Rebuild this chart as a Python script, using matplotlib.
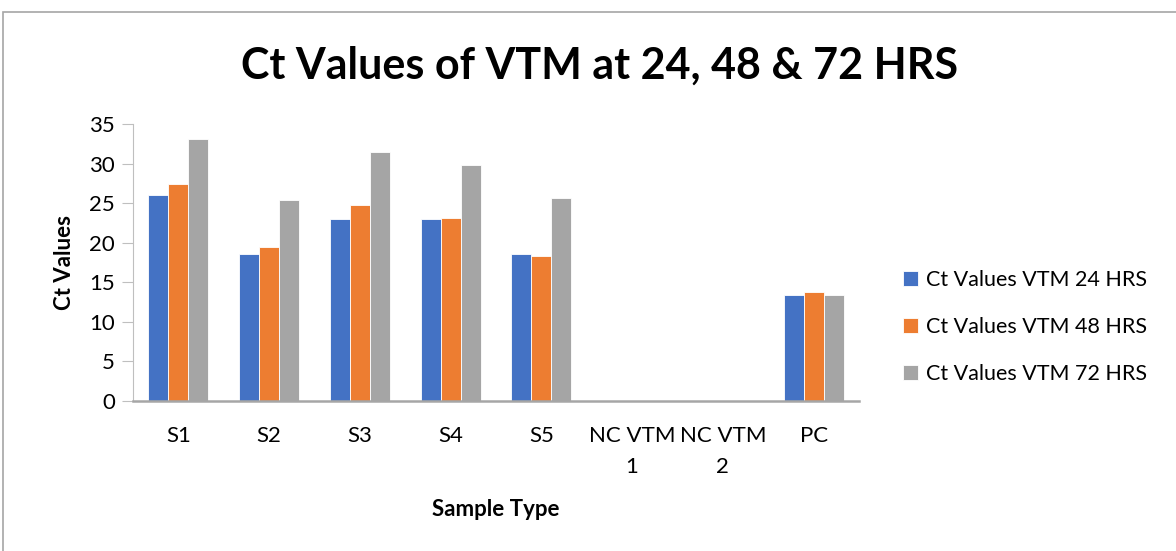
import numpy as np
import matplotlib
matplotlib.use("Agg")
from matplotlib import pyplot as plt
from matplotlib.patches import Rectangle

categories = ['S1', 'S2', 'S3', 'S4', 'S5', 'NC VTM\n1', 'NC VTM\n2', 'PC']
series_names = ['Ct Values VTM 24 HRS', 'Ct Values VTM 48 HRS', 'Ct Values VTM 72 HRS']
ct_24 = [26.0, 18.55, 23.0, 23.05, 18.6, 0, 0, 13.45]
ct_48 = [27.4, 19.5, 24.85, 23.1, 18.4, 0, 0, 13.75]
ct_72 = [33.1, 25.4, 31.55, 29.85, 25.7, 0, 0, 13.45]
colors = ['#4472C4', '#ED7D31', '#A5A5A5']

plt.rcParams['font.family'] = ['Lato', 'DejaVu Sans']

fig = plt.figure(figsize=(11.76, 5.51), dpi=100)
ax = fig.add_axes([133 / 1176, 1 - 401 / 551, 726 / 1176, 276.7 / 551])

x = np.arange(len(categories))
w = 0.22
for i, vals in enumerate([ct_24, ct_48, ct_72]):
    ax.bar(x + (i - 1) * w, vals, w, color=colors[i], edgecolor='white',
           linewidth=0.6, label=series_names[i], zorder=2)

ax.set_xlim(-0.5, len(categories) - 0.5)
ax.set_ylim(0, 35)
ax.set_yticks(range(0, 36, 5))
ax.set_xticks(x)
ax.set_xticklabels(categories, fontsize=16, linespacing=1.7)
ax.tick_params(axis='x', length=0, pad=18)
ax.tick_params(axis='y', labelsize=16, length=8, color='#bfbfbf', pad=5)
for s in ['top', 'right']:
    ax.spines[s].set_visible(False)
ax.spines['left'].set_color('#bfbfbf')
ax.spines['bottom'].set_color('#a6a6a6')
ax.spines['bottom'].set_linewidth(1.8)

ax.set_xlabel('Sample Type', fontsize=16, fontweight='bold', labelpad=16)
ax.set_ylabel('Ct Values', fontsize=16, fontweight='bold', labelpad=10)

fig.text(600 / 1176, 1 - 66 / 551, 'Ct Values of VTM at 24, 48 & 72 HRS',
         fontsize=31, fontweight='bold', ha='center', va='center')

ax.legend(loc='center left', bbox_to_anchor=(903 / 1176, 1 - 327 / 551),
          bbox_transform=fig.transFigure, frameon=False, fontsize=15.5,
          handlelength=0.7, handleheight=0.7, handletextpad=0.35,
          labelspacing=1.25, borderpad=0, borderaxespad=0)

fig.patches.append(Rectangle((3 / 1176, -0.05), 1.1, 1 - 12 / 551 + 0.05,
                             transform=fig.transFigure, fill=False,
                             edgecolor='#a6a6a6', linewidth=1.2))

plt.savefig('out.png', dpi=100)
